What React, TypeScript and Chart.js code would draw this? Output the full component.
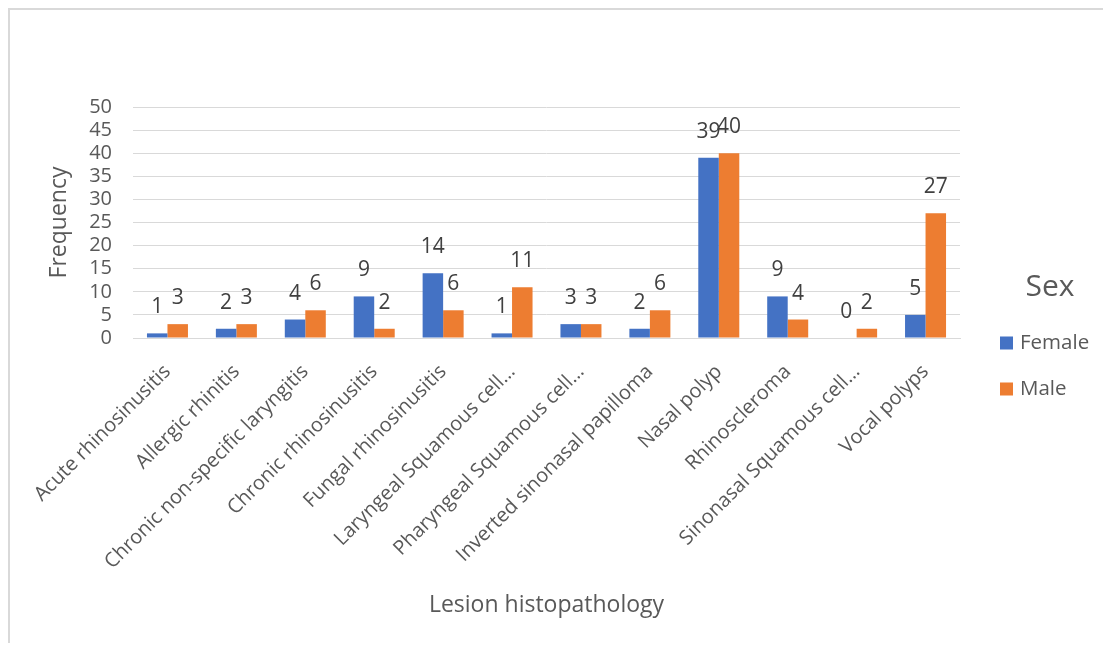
import { useEffect, useRef } from "react";
import { Chart, registerables } from "chart.js";

Chart.register(...registerables);

// Lesion categories (long names shortened the way the axis shows them)
const categories = [
  "Acute rhinosinusitis",
  "Allergic rhinitis",
  "Chronic non-specific laryngitis",
  "Chronic rhinosinusitis",
  "Fungal rhinosinusitis",
  "Laryngeal Squamous cell…",
  "Pharyngeal Squamous cell…",
  "Inverted sinonasal papilloma",
  "Nasal polyp",
  "Rhinoscleroma",
  "Sinonasal Squamous cell…",
  "Vocal polyps",
];

const femaleCounts = [1, 2, 4, 9, 14, 1, 3, 2, 39, 9, 0, 5];
const maleCounts = [3, 3, 6, 2, 6, 11, 3, 6, 40, 4, 2, 27];

const seriesNames = ["Female", "Male"];
const seriesColors = ["#4472C4", "#ED7D31"];

const yMin = 0;
const yMax = 50;
const yStep = 5;

const legendTitle = "Sex";
const xTitle = "Lesion histopathology";
const yTitle = "Frequency";

const FONT = '"Open Sans", "Noto Sans", sans-serif';
const TEXT_GRAY = "#595959";
const LABEL_DARK = "#404040";
const GRID = "#d9d9d9";

// Value labels above each bar
const valueLabels = {
  id: "valueLabels",
  afterDatasetsDraw(chart: any) {
    const ctx = chart.ctx;
    ctx.save();
    ctx.font = `21px ${FONT}`;
    ctx.fillStyle = LABEL_DARK;
    ctx.textAlign = "center";
    ctx.textBaseline = "middle";
    chart.data.datasets.forEach((ds: any, di: number) => {
      const meta = chart.getDatasetMeta(di);
      meta.data.forEach((el: any, i: number) => {
        ctx.fillText(String(ds.data[i]), el.x, el.y - 26);
      });
    });
    ctx.restore();
  },
};

// Legend on the right with its title
const sideLegend = {
  id: "sideLegend",
  afterDraw(chart: any) {
    const ctx = chart.ctx;
    const area = chart.chartArea;
    const x0 = area.right + 40;
    ctx.save();
    ctx.fillStyle = TEXT_GRAY;
    ctx.font = `30px ${FONT}`;
    ctx.textAlign = "center";
    ctx.textBaseline = "middle";
    ctx.fillText(legendTitle, x0 + 50, 277);
    ctx.font = `20.5px ${FONT}`;
    ctx.textAlign = "left";
    chart.data.datasets.forEach((ds: any, i: number) => {
      const cy = 333 + i * 46;
      ctx.fillStyle = ds.backgroundColor;
      ctx.fillRect(x0, cy - 6.5, 13, 13);
      ctx.fillStyle = TEXT_GRAY;
      ctx.fillText(ds.label, x0 + 20, cy);
    });
    ctx.restore();
  },
};

export default function App() {
  const canvasRef = useRef<HTMLCanvasElement | null>(null);

  useEffect(() => {
    if (!canvasRef.current) return;
    const chart = new Chart(canvasRef.current, {
      type: "bar",
      data: {
        labels: categories,
        datasets: [
          {
            label: seriesNames[0],
            data: femaleCounts,
            backgroundColor: seriesColors[0],
            categoryPercentage: 0.595,
            barPercentage: 1,
          },
          {
            label: seriesNames[1],
            data: maleCounts,
            backgroundColor: seriesColors[1],
            categoryPercentage: 0.595,
            barPercentage: 1,
          },
        ],
      },
      options: {
        animation: false,
        responsive: true,
        maintainAspectRatio: false,
        layout: { padding: { left: 32, top: 97, right: 143, bottom: 20 } },
        plugins: {
          legend: { display: false },
          tooltip: { enabled: false },
        },
        scales: {
          x: {
            grid: { display: false, drawTicks: false },
            border: { display: true, color: GRID },
            ticks: {
              autoSkip: false,
              maxRotation: 45,
              minRotation: 45,
              padding: 22,
              color: TEXT_GRAY,
              font: { family: FONT, size: 20 },
            },
            title: {
              display: true,
              text: xTitle,
              color: TEXT_GRAY,
              font: { family: FONT, size: 23 },
            },
            afterFit(scale: any) {
              scale.height = 285;
            },
          },
          y: {
            min: yMin,
            max: yMax,
            grid: { color: GRID, drawTicks: false },
            border: { display: false },
            ticks: {
              stepSize: yStep,
              autoSkip: false,
              padding: 21,
              color: TEXT_GRAY,
              font: { family: FONT, size: 20 },
            },
            title: {
              display: true,
              text: yTitle,
              color: TEXT_GRAY,
              font: { family: FONT, size: 23 },
            },
            afterFit(scale: any) {
              scale.width = 91;
            },
          },
        },
      },
      plugins: [valueLabels, sideLegend],
    });
    return () => chart.destroy();
  }, []);

  return (
    <div
      style={{
        width: 1095,
        height: 635,
        boxSizing: "border-box",
        borderTop: "2px solid #d9d9d9",
        borderLeft: "2px solid #d9d9d9",
        background: "#fff",
      }}
    >
      <div style={{ position: "relative", width: 1093, height: 633 }}>
        <canvas ref={canvasRef} />
      </div>
    </div>
  );
}
